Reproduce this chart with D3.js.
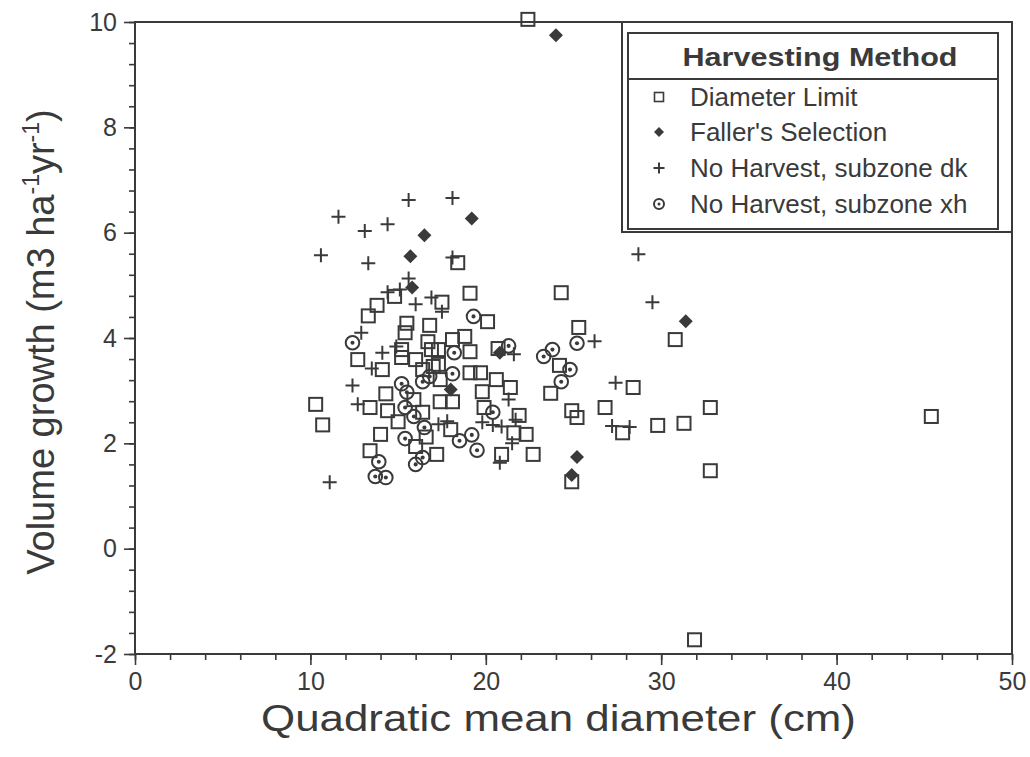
<!DOCTYPE html>
<html>
<head>
<meta charset="utf-8">
<script src="https://cdn.jsdelivr.net/npm/d3@7"></script>
<style>
  body { margin: 0; background: #fff; }
  text { font-family: "Liberation Sans", Arial, sans-serif; fill: #3a3a3a; }
</style>
</head>
<body>
<div id="graph"></div>
<script>
// Donnees : [diametre (cm), croissance]
const diameterLimit = [
  [22.4, 10.05], [18.4, 5.43], [19.1, 4.85], [20.1, 4.31], [17.5, 4.68], [24.3, 4.86],
  [25.3, 4.2], [30.8, 3.97], [18.8, 4.03], [18.1, 3.97], [19.1, 3.74], [20.7, 3.8],
  [14.8, 4.79], [13.8, 4.62], [13.3, 4.42], [15.5, 4.28], [15.4, 4.1], [15.2, 3.78],
  [16.8, 4.24], [16.7, 3.93], [16.9, 3.78], [17.3, 3.78], [12.7, 3.59], [14.1, 3.4],
  [15.2, 3.63], [16.0, 3.59], [16.4, 3.4], [17.3, 3.5], [17.0, 3.46], [19.1, 3.34],
  [19.7, 3.34], [19.8, 2.98], [20.6, 3.21], [21.4, 3.06], [23.7, 2.95], [24.9, 2.62],
  [25.2, 2.49], [24.2, 3.48], [26.8, 2.68], [28.4, 3.06], [27.8, 2.2], [29.8, 2.34],
  [31.3, 2.38], [32.8, 2.68], [32.8, 1.48], [45.4, 2.51], [31.9, -1.73], [24.9, 1.27],
  [22.7, 1.79], [20.9, 1.79], [21.9, 2.53], [21.6, 2.2], [22.3, 2.17], [19.9, 2.68],
  [17.4, 2.79], [18.1, 2.79], [18.0, 2.26], [17.2, 1.79], [16.0, 1.94], [16.6, 2.12],
  [16.4, 2.59], [15.9, 2.83], [15.0, 2.41], [14.4, 2.62], [14.3, 2.94], [13.4, 2.68],
  [14.0, 2.17], [13.4, 1.86], [10.3, 2.74], [10.7, 2.35], [17.4, 3.21]
];
const fallersSelection = [
  [24.0, 9.75], [19.2, 6.27], [16.5, 5.95], [15.7, 5.55], [15.8, 4.96], [31.4, 4.32],
  [20.8, 3.72], [18.0, 3.02], [25.2, 1.74], [24.9, 1.4]
];
const noHarvestDk = [
  [10.6, 5.57], [11.6, 6.3], [13.1, 6.03], [14.4, 6.16], [15.6, 6.62], [18.1, 6.66],
  [18.1, 5.53], [13.3, 5.42], [15.6, 5.13], [14.4, 4.87], [15.1, 4.92], [16.0, 4.64],
  [16.9, 4.77], [17.5, 4.5], [12.9, 4.1], [14.1, 3.72], [14.9, 3.84], [13.5, 3.42],
  [12.4, 3.1], [12.7, 2.74], [11.1, 1.26], [17.3, 2.36], [17.8, 2.42], [19.8, 2.4],
  [20.4, 2.35], [20.9, 2.32], [21.5, 2.0], [20.8, 1.63], [21.3, 2.83], [21.6, 3.69],
  [26.2, 3.94], [28.7, 5.59], [29.5, 4.68], [27.4, 3.15], [27.2, 2.33], [28.2, 2.31],
  [21.7, 2.45]
];
const noHarvestXh = [
  [12.4, 3.91], [19.3, 4.41], [18.2, 3.72], [18.1, 3.32], [16.8, 3.27], [16.4, 3.17],
  [15.2, 3.13], [15.5, 2.97], [15.4, 2.68], [15.9, 2.51], [16.5, 2.3], [15.4, 2.09],
  [18.5, 2.05], [19.2, 2.16], [19.5, 1.87], [16.4, 1.73], [16.0, 1.6], [13.9, 1.65],
  [13.7, 1.37], [14.3, 1.35], [20.4, 2.59], [21.3, 3.85], [23.3, 3.65], [23.8, 3.78],
  [25.2, 3.9], [24.8, 3.4], [24.3, 3.17]
];

const xTicks = [0, 10, 20, 30, 40, 50];
const yTicks = [-2, 0, 2, 4, 6, 8, 10];
const legendTitle = "Harvesting Method";
const legendLabels = ["Diameter Limit", "Faller's Selection", "No Harvest, subzone dk", "No Harvest, subzone xh"];

const ink = "#3a3a3a";
const margin = {top: 22, right: 18, bottom: 103, left: 135};
const width = 1030 - margin.left - margin.right;
const height = 757 - margin.top - margin.bottom;

const svg = d3.select("#graph")
  .append("svg")
  .attr("width", 1030)
  .attr("height", 757);

const g = svg.append("g")
  .attr("transform", "translate(" + margin.left + "," + margin.top + ")");

// Echelles
const x = d3.scaleLinear().domain([0, 50]).range([0, width]);
const y = d3.scaleLinear().domain([-2, 10]).range([height, 0]);

// Axes (graduations mineures puis majeures)
g.append("g")
  .attr("transform", "translate(0," + height + ")")
  .call(d3.axisBottom(x).tickValues(d3.range(0, 51, 2)).tickSize(6).tickFormat(""));
g.append("g")
  .attr("transform", "translate(0," + height + ")")
  .call(d3.axisBottom(x).tickValues(xTicks).tickSize(11).tickPadding(7).tickFormat(d => String(d)));
g.append("g")
  .call(d3.axisLeft(y).tickValues(d3.range(-2, 10.01, 0.4)).tickSize(6).tickFormat(""));
g.append("g")
  .call(d3.axisLeft(y).tickValues(yTicks).tickSize(11).tickPadding(7).tickFormat(d => String(d)));

g.selectAll(".domain").remove();
g.selectAll(".tick line").attr("stroke", ink).attr("stroke-width", 1.6);
g.selectAll(".tick text")
  .attr("font-size", 25)
  .attr("fill", "#444")
  .style("font-family", "Liberation Sans, Arial, sans-serif");

// Cadre
g.append("rect")
  .attr("width", width)
  .attr("height", height)
  .attr("fill", "none")
  .attr("stroke", ink)
  .attr("stroke-width", 2);

// Titres des axes
svg.append("text")
  .attr("x", margin.left + width / 2 - 15)
  .attr("y", 731)
  .attr("text-anchor", "middle")
  .attr("font-size", 37)
  .attr("fill", "#444")
  .attr("textLength", 595)
  .attr("lengthAdjust", "spacingAndGlyphs")
  .text("Quadratic mean diameter (cm)");

const yTitle = svg.append("text")
  .attr("transform", "translate(54,342) rotate(-90)")
  .attr("text-anchor", "middle")
  .attr("fill", "#444")
  .attr("font-size", 38);
yTitle.append("tspan").text("Volume growth (m3 ha");
yTitle.append("tspan").attr("font-size", 23).attr("dy", -15).text("-1");
yTitle.append("tspan").attr("dy", 15).text("yr");
yTitle.append("tspan").attr("font-size", 23).attr("dy", -15).text("-1");
yTitle.append("tspan").attr("dy", 15).text(")");

// Formes des symboles
const shapes = {
  square: s => sel => sel.append("rect").attr("x", -s / 2).attr("y", -s / 2).attr("width", s).attr("height", s)
    .attr("fill", "none").attr("stroke", ink).attr("stroke-width", 2),
  diamond: s => sel => sel.append("path").attr("d", `M0,${-s}L${s},0L0,${s}L${-s},0Z`).attr("fill", ink),
  plus: s => sel => sel.append("path").attr("d", `M${-s},0H${s}M0,${-s}V${s}`)
    .attr("stroke", ink).attr("stroke-width", 2).attr("fill", "none"),
  circle: s => sel => {
    sel.append("circle").attr("r", s).attr("fill", "none").attr("stroke", ink).attr("stroke-width", 2);
    sel.append("circle").attr("r", s * 0.3).attr("fill", ink);
  }
};

function drawSeries(data, shape) {
  g.append("g")
    .selectAll("g")
    .data(data)
    .join("g")
    .attr("transform", d => "translate(" + x(d[0]) + "," + y(d[1]) + ")")
    .each(function () { shape(d3.select(this)); });
}

drawSeries(diameterLimit, shapes.square(13));
drawSeries(noHarvestXh, shapes.circle(6.8));
drawSeries(noHarvestDk, shapes.plus(7));
drawSeries(fallersSelection, shapes.diamond(7));

// Legende
const legend = svg.append("g");
legend.append("rect")
  .attr("x", 622).attr("y", 22).attr("width", 390).attr("height", 210)
  .attr("fill", "#fff").attr("stroke", ink).attr("stroke-width", 2);
legend.append("rect")
  .attr("x", 628).attr("y", 33).attr("width", 370).attr("height", 196)
  .attr("fill", "#fff").attr("stroke", ink).attr("stroke-width", 2);
legend.append("line")
  .attr("x1", 628).attr("x2", 998).attr("y1", 79).attr("y2", 79)
  .attr("stroke", ink).attr("stroke-width", 2);
legend.append("text")
  .attr("x", 820).attr("y", 66)
  .attr("text-anchor", "middle")
  .attr("font-size", 25)
  .attr("font-weight", "bold")
  .attr("textLength", 275)
  .attr("lengthAdjust", "spacingAndGlyphs")
  .text(legendTitle);

const legendShapes = [shapes.square(9), shapes.diamond(5), shapes.plus(5.5), shapes.circle(5)];
const rowY = [97, 132, 168, 204];
legendLabels.forEach((label, i) => {
  const row = legend.append("g").attr("transform", "translate(659," + rowY[i] + ")");
  legendShapes[i](row);
  if (i === 0) row.select("rect").attr("stroke-width", 1.6);
  legend.append("text")
    .attr("x", 690)
    .attr("y", rowY[i] + 9)
    .attr("font-size", 26)
    .attr("fill", "#444")
    .text(label);
});
</script>
</body>
</html>
